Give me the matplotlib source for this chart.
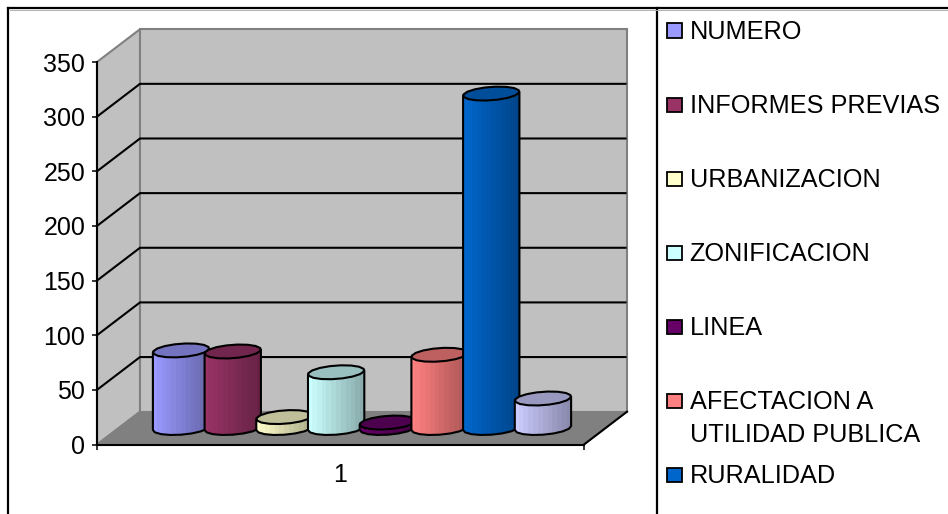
import numpy as np
import matplotlib
matplotlib.use("Agg")
import matplotlib.pyplot as plt
from matplotlib.patches import Polygon, Rectangle
from matplotlib.lines import Line2D
from matplotlib.colors import to_rgb

plt.rcParams['font.family'] = ['Liberation Sans', 'DejaVu Sans']

series_names = ["NUMERO", "INFORMES PREVIAS", "URBANIZACION", "ZONIFICACION", "LINEA",
                "AFECTACION A\nUTILIDAD PUBLICA", "RURALIDAD", ""]
series_values = [71, 70, 10, 51, 5, 67, 306, 27]
series_colors = ["#9999FF", "#993366", "#FFFFCC", "#CCFFFF", "#660066", "#FF8080", "#0066CC", "#CCCCFF"]
y_ticks = [0, 50, 100, 150, 200, 250, 300, 350]
category_label = "1"

W, H = 948, 514
fig = plt.figure(figsize=(W / 100, H / 100), dpi=100, facecolor="white")

# front plane of the 3-D box, in pixels
L, R, T, B = 97, 584, 62, 444.5
ax = fig.add_axes([L / W, 1 - B / H, (R - L) / W, (B - T) / H])
ax.set_xlim(0.5, 1.5)
ax.set_ylim(0, 350)
ax.patch.set_visible(False)

px = 1.0 / (R - L)            # one pixel in x data units
py = 350.0 / (B - T)          # one pixel in y data units
DX, DY = 43 * px, 32.8 * py   # depth of the box

# walls and floor
x0, x1 = 0.5, 1.5
ax.add_patch(Polygon([(x0, 0), (x0 + DX, DY), (x0 + DX, 350 + DY), (x0, 350)], closed=True,
                     fc="#C0C0C0", ec="#808080", lw=1.5, clip_on=False, zorder=1))
ax.add_patch(Rectangle((x0 + DX, DY), 1, 350, fc="#C0C0C0", ec="#808080", lw=1.5, clip_on=False, zorder=1))
ax.add_patch(Polygon([(x0, 0), (x1, 0), (x1 + DX, DY), (x0 + DX, DY)], closed=True,
                     fc="#808080", ec="#808080", lw=1, clip_on=False, zorder=1))
for v in y_ticks[1:-1]:
    ax.plot([x0, x0 + DX, x1 + DX - 1.5 * px], [v, v + DY, v + DY], color="black", lw=1.5,
            clip_on=False, zorder=2, solid_joinstyle="miter")
ax.plot([x1, x1 + DX], [0, DY], color="black", lw=1.5, clip_on=False, zorder=2)

# cylinders
spacing = 51.7 * px
rad_x, shear, rad_y = 27 * px, 8 * px, 7 * py
base = 16.5 * py
n = len(series_values)
t = np.linspace(0, 2 * np.pi, 17)[:-1] + 0.12
t_right = np.arctan2(shear, rad_x)


def ring(cx, cy, angles):
    return np.column_stack([cx + rad_x * np.cos(angles) + shear * np.sin(angles),
                            cy + rad_y * np.sin(angles)])


for i, (val, col) in enumerate(zip(series_values, series_colors)):
    cx = 1 + (i - (n - 1) / 2) * spacing + 21.5 * px
    top = base + val
    rgb = np.array(to_rgb(col))
    z = 3 + i * 0.1
    body = Polygon(np.vstack([ring(cx, base, np.linspace(np.pi + t_right, 2 * np.pi + t_right, 9)),
                              ring(cx, top, np.array([t_right])),
                              ring(cx, top, np.array([np.pi + t_right]))]),
                   closed=True, fc=col, ec="none", zorder=z, clip_on=False)
    ax.add_patch(body)
    edges = np.linspace(cx - 29 * px, cx + 29 * px, 13)
    shade = np.linspace(1.0, 0.72, 12) ** 1.2
    bars = ax.bar((edges[:-1] + edges[1:]) / 2, val + 2 * rad_y + 4, width=np.diff(edges) * 1.05,
                  bottom=base - rad_y - 2, color=[tuple(rgb * s) for s in shade], lw=0,
                  zorder=z + 0.01)
    for b in bars:
        b.set_clip_path(body)
    ax.add_patch(Polygon(body.get_xy(), closed=True, fc="none", ec="black", lw=1.5,
                         zorder=z + 0.02, joinstyle="round", clip_on=False))
    ax.add_patch(Polygon(ring(cx, top, t), closed=True, fc=tuple(rgb * 0.75), ec="black", lw=1.5,
                         zorder=z + 0.03, joinstyle="round", clip_on=False))

# axes
for s in ("top", "right"):
    ax.spines[s].set_visible(False)
for s in ("left", "bottom"):
    ax.spines[s].set_linewidth(1.5)
    ax.spines[s].set_zorder(2.5)
ax.set_yticks(y_ticks)
ax.tick_params(axis="y", labelsize=18, length=3.5, width=1.1, pad=5, colors="black")
ax.set_xticks([1.0])
ax.set_xticklabels([category_label])
ax.set_xticks([0.5, 1.5], minor=True)
ax.tick_params(axis="x", which="major", labelsize=18, length=0, pad=13.5)
ax.tick_params(axis="x", which="minor", length=3.5, width=1.1)


# chart frame
def fx(x):
    return x / W


def fy(y):
    return 1 - y / H


for xs, ys, c, lw in [((8, W), (8, 8), "black", 1.6), ((8, 8), (8, H), "black", 1.6),
                      ((657, 657), (8, H), "black", 1.6), ((10, W), (9.6, 9.6), "#B0B0B0", 0.7)]:
    fig.add_artist(Line2D([fx(a) for a in xs], [fy(b) for b in ys], color=c, lw=lw))

# legend
legend_y = [31, 105, 179, 253, 327, 401, 475]
for name, col, yy in zip(series_names[:7], series_colors[:7], legend_y):
    fig.add_artist(Rectangle((fx(667), fy(yy + 7)), 14.5 / W, 14.5 / H, transform=fig.transFigure,
                             fc=col, ec="black", lw=1.3))
    fig.text(fx(689.5), fy(yy - 11), name, fontsize=18.2, va="top", ha="left", color="black",
             linespacing=1.45)

fig.savefig("out.png", dpi=100, facecolor="white")
